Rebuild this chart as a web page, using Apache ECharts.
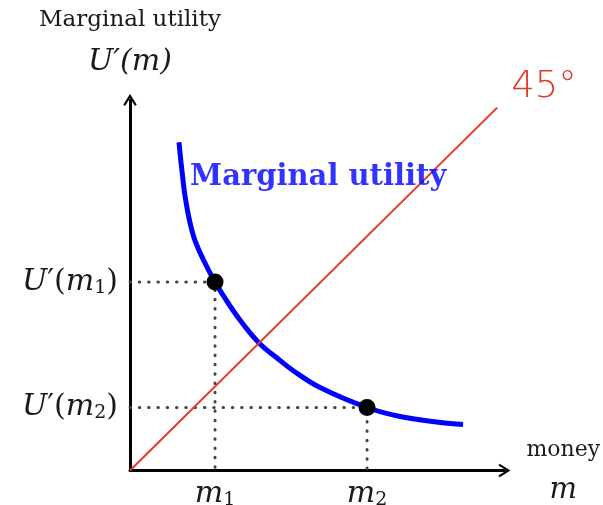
<!DOCTYPE html>
<html>
<head>
<meta charset="utf-8">
<script src="https://cdn.jsdelivr.net/npm/echarts@6/dist/echarts.min.js"></script>
<style>html,body{margin:0;padding:0;background:#fff}#c{width:603px;height:505px}</style>
</head>
<body>
<div id="c"></div>
<script>
// Marginal utility curve (money m, U'(m))
const curveX = [1.289, 1.361, 1.474, 1.666, 1.934, 2.237, 2.632, 2.982, 3.421, 3.861, 4.289, 5.0, 6.237, 7.105, 8.158, 8.763];
const curveY = [8.639, 7.939, 7.061, 6.184, 5.539, 4.961, 4.329, 3.842, 3.329, 2.966, 2.632, 2.184, 1.658, 1.421, 1.263, 1.211];
// Marked points
const mValues = [2.237, 6.237];
const uValues = [4.961, 1.658];
// 45 degree line end points
const diagX = [0, 9.66];
const diagY = [0, 9.55];
// Annotation anchor for the curve name
const curveNameAnchor = [1.58, 7.71];

const curveData = curveX.map((x, i) => [x, curveY[i]]);
const pointData = mValues.map((m, i) => [m, uValues[i]]);
const diagData = diagX.map((x, i) => [x, diagY[i]]);
const guideSeries = mValues.map((m, i) => ({
  type: 'line',
  data: [[0, uValues[i]], [m, uValues[i]], [m, 0]],
  symbol: 'none',
  lineStyle: { color: '#444', width: 3, type: [0.5, 8.8], cap: 'round' },
  z: 1,
  silent: true
}));

const serif = 'DejaVu Serif';
const ink = '#1a1a1a';
const italic = { fontFamily: serif, fontStyle: 'italic', fontSize: 30, color: ink };
const upright = { fontFamily: serif, fontSize: 30, color: ink };
const sub = { fontFamily: serif, fontSize: 19, color: ink, padding: [12, 0, 0, 0] };

function yLab(i) { return '{i|U}{n|′(}{i|m}{s|' + (i + 1) + '}{n|)}'; }
function xLab(i) { return '{i|m}{s|' + (i + 1) + '}'; }

const chevron = 'path://M5,0 L10,8 L8.7,8.9 L5,2.9 L1.3,8.9 L0,8 Z';

const chart = echarts.init(document.getElementById('c'));
chart.setOption({
  animation: false,
  grid: { left: 130, top: 100, width: 374.4, height: 370.5, outerBoundsMode: 'none', containLabel: false },
  xAxis: {
    type: 'value', min: 0, max: 9.85,
    splitLine: { show: false },
    axisLine: { lineStyle: { color: '#000', width: 3 }, symbol: ['none', chevron], symbolSize: [17, 12] },
    axisTick: { show: false },
    axisLabel: {
      customValues: mValues,
      formatter: v => xLab(mValues.indexOf(v)),
      margin: 8,
      rich: { i: italic, n: upright, s: sub }
    },
    name: '{a|money}\n{b|m}',
    nameLocation: 'end',
    nameGap: 22,
    nameTextStyle: {
      align: 'left', verticalAlign: 'middle',
      rich: {
        a: { fontFamily: serif, fontSize: 22, color: ink, align: 'center', lineHeight: 40 },
        b: { fontFamily: serif, fontStyle: 'italic', fontSize: 29, color: ink, align: 'center', lineHeight: 40 }
      }
    }
  },
  yAxis: {
    type: 'value', min: 0, max: 9.75,
    splitLine: { show: false },
    axisLine: { lineStyle: { color: '#000', width: 3 }, symbol: ['none', chevron], symbolSize: [17, 12] },
    axisTick: { show: false },
    axisLabel: {
      customValues: uValues,
      formatter: v => yLab(uValues.indexOf(v)),
      margin: 12,
      rich: { i: italic, n: upright, s: sub }
    },
    name: '{a|Marginal utility}\n{b|U′(m)}',
    nameLocation: 'end',
    nameGap: 18,
    nameTextStyle: {
      align: 'center', verticalAlign: 'bottom',
      rich: {
        a: { fontFamily: serif, fontSize: 23, color: ink, align: 'center', lineHeight: 44 },
        b: { fontFamily: serif, fontStyle: 'italic', fontSize: 30, color: ink, align: 'center', lineHeight: 40 }
      }
    }
  },
  series: [
    ...guideSeries,
    {
      type: 'line', data: curveData, smooth: 0.4, symbol: 'none',
      lineStyle: { color: '#0000ff', width: 5 }, z: 2
    },
    {
      type: 'line', data: diagData, symbol: 'none',
      lineStyle: { color: '#e33a28', width: 2 }, z: 3,
      endLabel: {
        show: true, formatter: '45°', color: '#e33a28',
        fontFamily: 'DejaVu Sans', fontSize: 37, fontWeight: 'lighter',
        offset: [6, -20]
      }
    },
    {
      type: 'scatter', data: pointData, symbolSize: 17,
      itemStyle: { color: '#000', opacity: 1 }, z: 4
    },
    {
      type: 'scatter', data: [curveNameAnchor], symbolSize: 0,
      label: {
        show: true, position: 'right', distance: 0, formatter: 'Marginal utility',
        fontFamily: serif, fontWeight: 'bold', fontSize: 29, color: '#0000ff'
      }, z: 5
    }
  ]
});
</script>
</body>
</html>
